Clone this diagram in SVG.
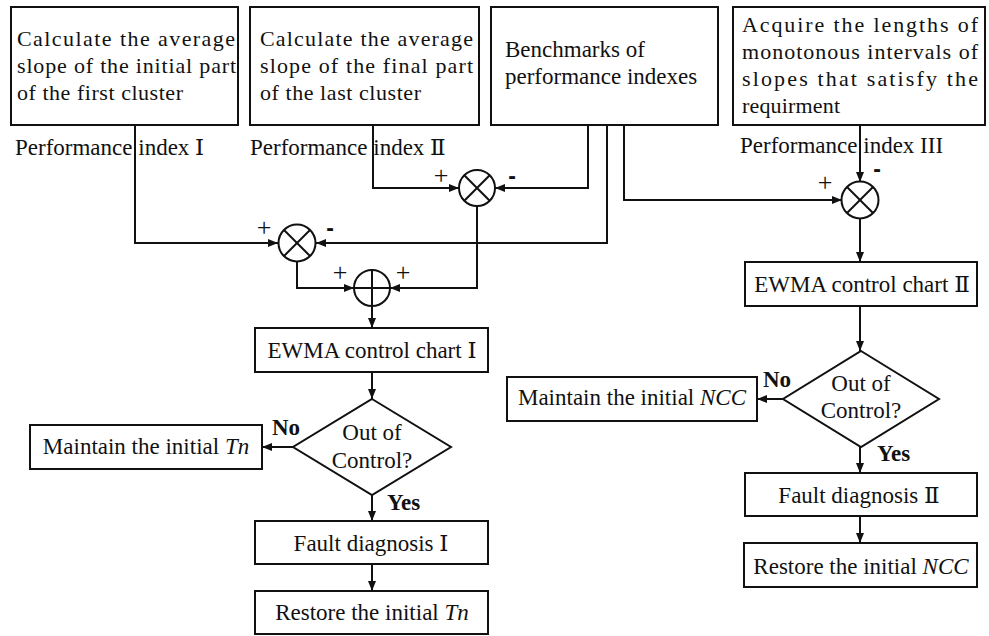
<svg xmlns="http://www.w3.org/2000/svg" width="989" height="636" viewBox="0 0 989 636">
<style>
.box{fill:#fff;stroke:#111;stroke-width:2}
.sym{fill:#fff;stroke:#111;stroke-width:2}
.sl{stroke:#111;stroke-width:2;fill:none}
.t{font-family:"Liberation Serif","DejaVu Serif","Noto Sans CJK SC",serif;font-size:23px;fill:#111}
.tb{font-family:"Liberation Serif","DejaVu Serif","Noto Sans CJK SC",serif;font-size:22px;fill:#111}
.b{font-weight:bold}
.c{text-anchor:middle}
.plus{font-family:"Liberation Serif",serif;font-size:26px;fill:#111;text-anchor:middle}
.minus{font-family:"Liberation Sans",sans-serif;font-size:23px;font-weight:bold;fill:#111;text-anchor:middle}
.cn{stroke:#111;stroke-width:2;fill:none;marker-end:url(#ah)}
.ln{stroke:#111;stroke-width:2;fill:none}
</style>
<defs>
<marker id="ah" viewBox="0 0 10 8" refX="10" refY="4" markerWidth="10" markerHeight="8" markerUnits="userSpaceOnUse" orient="auto">
<path d="M0,0 L10,4 L0,8 z" fill="#111"/>
</marker>
</defs>
<rect width="989" height="636" fill="#fff"/>

<g id="connectors">
<polyline class="cn" points="135,125 135,243 278,243"/>
<polyline class="cn" points="373,125 373,188 459,188"/>
<polyline class="cn" points="588,125 588,188 495,188"/>
<polyline class="cn" points="607,125 607,243 316,243"/>
<polyline class="cn" points="624,125 624,200 842,200"/>
<polyline class="cn" points="860,125 860,182"/>
<polyline class="cn" points="477,206 477,288 390,288"/>
<polyline class="cn" points="297,262 297,288 354,288"/>
<polyline class="cn" points="372,306 372,328"/>
<polyline class="cn" points="372,372 372,399"/>
<polyline class="cn" points="293,447 262,447"/>
<polyline class="cn" points="372,495 372,521"/>
<polyline class="cn" points="372,564 372,591"/>
<polyline class="cn" points="860,218 860,262"/>
<polyline class="cn" points="860,306 860,351"/>
<polyline class="cn" points="783,399 757,399"/>
<polyline class="cn" points="860,447 860,473"/>
<polyline class="cn" points="860,516 860,543"/>
</g>

<g id="box-initial-slope">
<rect class="box" x="11" y="7" width="227" height="118"/>
<text class="tb" x="17" y="46" textLength="218" lengthAdjust="spacing">Calculate the average</text>
<text class="tb" x="17" y="73" textLength="219" lengthAdjust="spacing">slope of the initial part</text>
<text class="tb" x="17" y="100" textLength="166" lengthAdjust="spacing">of the first cluster</text>
</g>
<g id="box-final-slope">
<rect class="box" x="250" y="7" width="229" height="118"/>
<text class="tb" x="260" y="46" textLength="213" lengthAdjust="spacing">Calculate the average</text>
<text class="tb" x="260" y="73" textLength="213" lengthAdjust="spacing">slope of the final part</text>
<text class="tb" x="260" y="100" textLength="161" lengthAdjust="spacing">of the last cluster</text>
</g>
<g id="box-benchmarks">
<rect class="box" x="491" y="7" width="227" height="118"/>
<text class="t" x="505" y="57">Benchmarks of</text>
<text class="t" x="505" y="84">performance indexes</text>
</g>
<g id="box-monotonous">
<rect class="box" x="733" y="7" width="252" height="118"/>
<text class="tb" x="742" y="32" textLength="236" lengthAdjust="spacing">Acquire the lengths of</text>
<text class="tb" x="742" y="59" textLength="236" lengthAdjust="spacing">monotonous intervals of</text>
<text class="tb" x="742" y="86" textLength="236" lengthAdjust="spacing">slopes that satisfy the</text>
<text class="tb" x="742" y="113" textLength="98" lengthAdjust="spacing">requirment</text>
</g>

<g id="label-pi1"><text class="t" x="15" y="155">Performance index Ⅰ</text></g>
<g id="label-pi2"><text class="t" x="250" y="155">Performance index Ⅱ</text></g>
<g id="label-pi3"><text class="t" x="740" y="153">Performance index III</text></g>
<g id="label-lines">
<line class="ln" x1="135" y1="125" x2="135" y2="170"/>
<line class="ln" x1="373" y1="125" x2="373" y2="170"/>
<line class="ln" x1="860" y1="125" x2="860" y2="170"/>
</g>

<g id="mult-2">
<circle class="sym" cx="477" cy="188" r="18"/>
<line class="sl" x1="464.3" y1="175.3" x2="489.7" y2="200.7"/>
<line class="sl" x1="489.7" y1="175.3" x2="464.3" y2="200.7"/>
<text class="plus" x="441" y="184">+</text>
<text class="minus" x="512" y="184">-</text>
</g>
<g id="mult-1">
<circle class="sym" cx="297" cy="243" r="18.5"/>
<line class="sl" x1="284" y1="230" x2="310" y2="256"/>
<line class="sl" x1="310" y1="230" x2="284" y2="256"/>
<text class="plus" x="264" y="236">+</text>
<text class="minus" x="330" y="236">-</text>
</g>
<g id="sum">
<circle class="sym" cx="372" cy="288" r="18"/>
<line class="sl" x1="372" y1="270" x2="372" y2="306"/>
<line class="sl" x1="354" y1="288" x2="390" y2="288"/>
<text class="plus" x="340" y="281">+</text>
<text class="plus" x="403" y="281">+</text>
</g>
<g id="mult-3">
<circle class="sym" cx="860" cy="200" r="18.5"/>
<line class="sl" x1="847" y1="187" x2="873" y2="213"/>
<line class="sl" x1="873" y1="187" x2="847" y2="213"/>
<text class="plus" x="825" y="191">+</text>
<text class="minus" x="877" y="177" font-size="21">-</text>
</g>

<g id="ewma-1">
<rect class="box" x="255" y="328" width="233" height="44"/>
<text class="t c" x="372" y="358">EWMA control chart Ⅰ</text>
</g>
<g id="decision-1">
<polygon class="box" points="372,399 451,447 372,495 293,447"/>
<text class="t c" x="372" y="440">Out of</text>
<text class="t c" x="372" y="468">Control?</text>
<text class="t b" x="272" y="435">No</text>
<text class="t b" x="387" y="510">Yes</text>
</g>
<g id="maintain-tn">
<rect class="box" x="30" y="425" width="232" height="44"/>
<text class="t c" x="146" y="454">Maintain the initial <tspan font-style="italic">Tn</tspan></text>
</g>
<g id="fault-1">
<rect class="box" x="255" y="521" width="233" height="43"/>
<text class="t c" x="371" y="551">Fault diagnosis Ⅰ</text>
</g>
<g id="restore-tn">
<rect class="box" x="255" y="591" width="233" height="43"/>
<text class="t c" x="372" y="620">Restore the initial <tspan font-style="italic">Tn</tspan></text>
</g>

<g id="ewma-2">
<rect class="box" x="745" y="262" width="232" height="44"/>
<text class="t c" x="862" y="292">EWMA control chart Ⅱ</text>
</g>
<g id="decision-2">
<polygon class="box" points="861,351 939,399 861,447 783,399"/>
<text class="t c" x="861" y="391">Out of</text>
<text class="t c" x="861" y="418">Control?</text>
<text class="t b" x="763" y="387">No</text>
<text class="t b" x="877" y="461">Yes</text>
</g>
<g id="maintain-ncc">
<rect class="box" x="507" y="377" width="250" height="44"/>
<text class="t c" x="632" y="405">Maintain the initial <tspan font-style="italic">NCC</tspan></text>
</g>
<g id="fault-2">
<rect class="box" x="745" y="473" width="232" height="43"/>
<text class="t c" x="859" y="503">Fault diagnosis Ⅱ</text>
</g>
<g id="restore-ncc">
<rect class="box" x="744" y="543" width="233" height="44"/>
<text class="t c" x="861" y="574">Restore the initial <tspan font-style="italic">NCC</tspan></text>
</g>
</svg>
